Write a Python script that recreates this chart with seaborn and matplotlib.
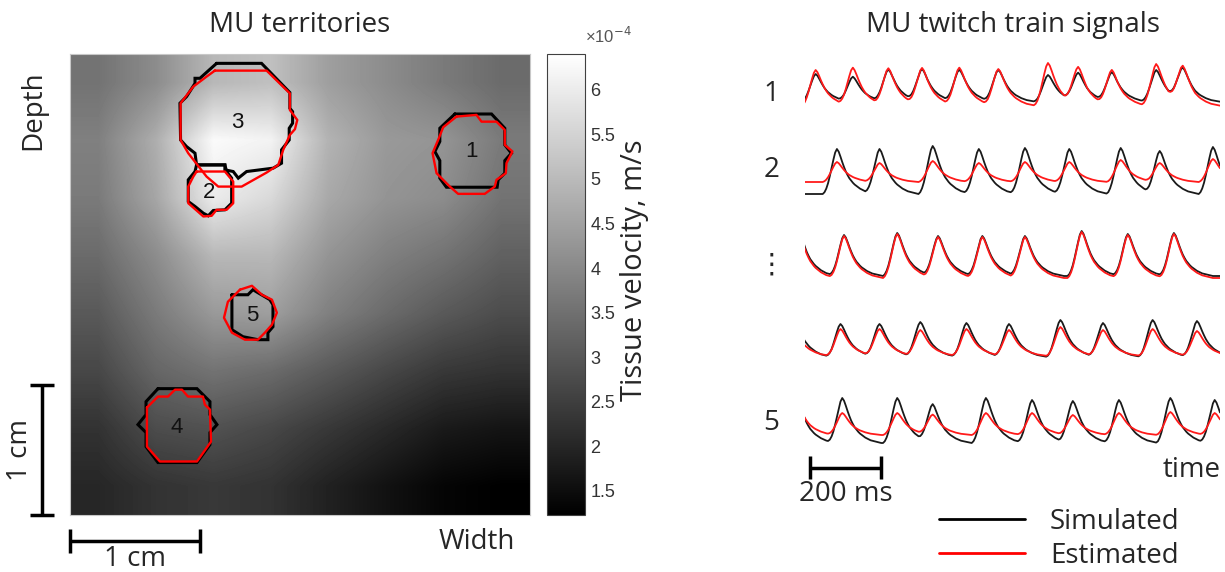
import numpy as np
import matplotlib
matplotlib.use("Agg")
import matplotlib.pyplot as plt
from matplotlib.lines import Line2D
from matplotlib.ticker import FuncFormatter
import seaborn as sns

# ---- left panel: tissue velocity map (x1e-4 m/s), coarse readings, rows = depth
velocity_e4 = [
    [3.56, 4.07, 4.95, 5.11, 4.44, 4.07, 3.71, 3.40],
    [3.82, 4.75, 6.30, 6.14, 4.85, 4.33, 4.23, 3.71],
    [3.71, 4.59, 5.99, 5.62, 4.64, 4.23, 4.07, 3.56],
    [3.40, 4.07, 4.95, 4.95, 4.23, 3.82, 3.56, 3.19],
    [3.04, 3.71, 4.33, 4.44, 3.82, 3.40, 3.04, 2.78],
    [2.68, 3.30, 3.56, 3.40, 3.04, 2.68, 2.37, 2.26],
    [2.26, 2.78, 2.88, 2.68, 2.37, 2.06, 1.75, 1.64],
    [2.01, 2.26, 2.37, 2.26, 1.90, 1.59, 1.33, 1.23],
]
width_mm = 35.4
depth_mm = 35.5
vmin, vmax = 1.23, 6.4
cbar_ticks = [1.5, 2, 2.5, 3, 3.5, 4, 4.5, 5, 5.5, 6]

# MU territory outlines (mm): simulated (black) and estimated (red)
mu_ids = [1, 2, 3, 4, 5]
mu_label_x = [30.9, 10.7, 12.85, 8.2, 14.0]
mu_label_y = [7.5, 10.7, 5.3, 28.8, 20.1]
sim_x = [
    [29.62, 32.44, 33.46, 33.46, 33.97, 33.46, 33.46, 32.95, 32.87, 28.97, 28.46, 28.46, 28.08, 28.46, 28.46],
    [9.74, 11.92, 12.05, 12.44, 12.44, 11.92, 11.03, 10.64, 10.26, 9.62, 9.10, 9.10, 9.62],
    [11.28, 14.74, 16.92, 16.92, 17.13, 17.13, 16.87, 16.87, 16.28, 16.28, 15.64, 13.59, 12.95, 12.56,
     11.92, 11.92, 9.74, 9.62, 8.97, 8.51, 8.46, 8.97, 9.62, 9.62, 10.0],
    [6.77, 9.77, 10.77, 10.77, 11.31, 10.77, 10.77, 9.77, 6.77, 5.85, 5.85, 5.23, 5.85, 5.85],
    [12.46, 13.69, 14.08, 14.46, 15.38, 15.62, 15.62, 15.23, 15.23, 14.46, 13.31, 12.46],
]
sim_y = [
    [4.62, 4.62, 5.72, 7.0, 7.64, 8.21, 9.18, 9.69, 10.26, 10.26, 9.56, 8.21, 7.51, 6.74, 5.72],
    [8.54, 8.54, 9.05, 9.56, 11.49, 12.0, 12.05, 12.46, 12.26, 11.74, 11.36, 9.69, 9.05],
    [0.72, 0.72, 2.97, 4.18, 4.44, 5.33, 5.72, 6.62, 7.38, 8.41, 8.79, 9.05, 9.56, 9.05,
     8.92, 8.54, 8.54, 7.64, 7.13, 6.62, 3.79, 3.28, 2.26, 1.87, 1.87],
    [25.77, 25.77, 26.77, 27.77, 28.54, 29.15, 30.08, 31.46, 31.46, 30.23, 29.15, 28.54, 27.77, 26.77],
    [18.54, 18.54, 18.15, 18.38, 18.92, 19.31, 21.0, 21.46, 22.0, 22.0, 21.77, 21.23],
]
est_x = [
    [29.74, 31.28, 31.67, 32.82, 33.46, 33.46, 34.05, 33.59, 33.54, 32.82, 32.69, 31.92, 29.87, 29.23,
     28.21, 27.9, 28.33, 28.72],
    [9.74, 11.92, 12.56, 12.56, 12.05, 11.28, 10.9, 10.26, 9.74, 9.10, 9.10, 9.49],
    [11.15, 15.13, 16.92, 16.92, 17.49, 17.31, 16.92, 16.41, 16.03, 15.13, 13.21, 11.41, 10.51, 9.10,
     8.51, 8.51, 9.49, 10.51],
    [5.92, 6.77, 7.54, 8.08, 8.62, 9.08, 10.23, 10.38, 10.77, 10.85, 9.77, 6.92, 5.92],
    [13.08, 14.0, 14.77, 15.54, 15.92, 15.54, 15.0, 14.46, 13.46, 12.46, 11.85, 12.15],
]
est_y = [
    [4.82, 4.69, 5.21, 5.21, 5.85, 7.0, 7.51, 8.41, 9.18, 9.69, 10.21, 10.77, 10.77, 10.21,
     9.18, 7.64, 6.62, 5.64],
    [9.05, 9.05, 9.82, 11.49, 12.0, 12.0, 12.46, 12.51, 12.05, 11.49, 10.21, 9.44],
    [1.28, 1.28, 3.03, 4.31, 5.08, 5.79, 6.23, 7.38, 8.54, 9.13, 10.21, 10.21, 9.44, 7.64,
     6.62, 3.79, 2.51, 1.74],
    [27.23, 26.38, 26.38, 25.85, 25.85, 26.38, 26.38, 27.0, 27.38, 29.85, 31.38, 31.38, 30.23],
    [18.15, 17.85, 18.54, 18.92, 19.92, 20.85, 21.46, 22.0, 22.0, 21.46, 20.31, 19.08],
]

# ---- right panel: twitch trains
row_labels = ["1", "2", "\u22ee", "", "5"]
step_ms = 5
time_ms = np.arange(-200, 1171, step_ms)
# twitch waveform, one value per 5 ms, onset 40 ms before peak
twitch_shape = [0.0, 0.04, 0.12, 0.24, 0.40, 0.58, 0.76, 0.92, 1.0, 0.94, 0.83, 0.71, 0.60,
                0.50, 0.42, 0.35, 0.30, 0.25, 0.21, 0.18, 0.15, 0.12, 0.10, 0.08, 0.06,
                0.05, 0.04, 0.03, 0.02, 0.01, 0.0]
twitch_lead_ms = 40
fire_ms = [
    [30, 135, 235, 330, 435, 545, 685, 770, 865, 990, 1065],
    [90, 210, 360, 490, 620, 745, 890, 1000, 1150],
    [-20, 110, 260, 375, 500, 620, 780, 910, 1040],
    [-35, 100, 210, 325, 455, 575, 720, 840, 980, 1105],
    [-20, 105, 260, 360, 510, 640, 755, 885, 1030, 1155],
]
sim_amp = [
    [28, 25, 32, 32, 32, 32, 27, 28, 29, 32, 32],
    [45, 45, 48, 45, 46, 45, 46, 43, 47],
    [48, 41, 43, 40, 40, 40, 45, 42, 43],
    [45, 33, 33, 35, 34, 33, 37, 34, 37, 36],
    [40, 45, 45, 38, 45, 43, 42, 43, 45, 43],
]
est_amp = [
    [36, 38, 37, 37, 38, 37, 43, 37, 35, 42, 37],
    [20, 19, 21, 19, 20, 20, 22, 19, 23],
    [48, 42, 44, 41, 41, 41, 46, 43, 44],
    [30, 27, 27, 26, 27, 26, 29, 26, 27, 25],
    [28, 22, 22, 20, 22, 22, 20, 22, 23, 22],
]
sim_base = [398, 306, 224, 143, 57]
est_base = [394, 318, 222, 144, 65]


def twitch_train(fires, amps, base):
    sig = np.full(len(time_ms), float(base))
    shape = np.array(twitch_shape)
    for f, a in zip(fires, amps):
        i0 = (f - twitch_lead_ms - time_ms[0]) // step_ms
        i1 = min(i0 + len(shape), len(sig))
        sig[i0:i1] += a * shape[: i1 - i0]
    return sig


sns.set_style("white")
plt.rcParams["font.family"] = ["Open Sans", "DejaVu Sans"]
txt = 20

fig = plt.figure(figsize=(12.25, 5.72), dpi=100)

# ---- heat map
ax = fig.add_axes([70 / 1225, 1 - 515 / 572, 460 / 1225, 461 / 572])
im = ax.imshow(np.array(velocity_e4), cmap="gray", vmin=vmin, vmax=vmax,
               extent=[0, width_mm, depth_mm, 0], interpolation="bilinear", aspect="auto")
for xs, ys in zip(sim_x, sim_y):
    ax.plot(xs + xs[:1], ys + ys[:1], color="black", lw=2.2, solid_joinstyle="miter")
for xs, ys in zip(est_x, est_y):
    ax.plot(xs + xs[:1], ys + ys[:1], color="#ff0000", lw=1.7)
for i, lx, ly in zip(mu_ids, mu_label_x, mu_label_y):
    ax.text(lx, ly, str(i), ha="center", va="center", fontsize=16,
            family="Liberation Sans", color="#111111")
ax.set_xlim(0, width_mm)
ax.set_ylim(depth_mm, 0)
ax.set_xticks([])
ax.set_yticks([])
for s in ax.spines.values():
    s.set_color("#c8c8c8")
    s.set_linewidth(0.8)
ax.set_title("MU territories", fontsize=txt, pad=16)

# scale bars (1 cm = 10 mm)
kw = dict(color="black", lw=2.5, clip_on=False, solid_capstyle="butt")
bx = -2.15
ax.plot([bx, bx], [depth_mm - 10, depth_mm], **kw)
ax.plot([bx - 0.9, bx + 0.9], [depth_mm - 10, depth_mm - 10], **kw)
ax.plot([bx - 0.9, bx + 0.9], [depth_mm, depth_mm], **kw)
ax.text(bx - 1.7, depth_mm - 5, "1 cm", rotation=90, ha="center", va="center", fontsize=txt)
by = depth_mm + 2.0
ax.plot([0, 10], [by, by], **kw)
ax.plot([0, 0], [by - 0.9, by + 0.9], **kw)
ax.plot([10, 10], [by - 0.9, by + 0.9], **kw)
ax.text(5, by + 1.35, "1 cm", ha="center", va="center", fontsize=txt)
ax.text(31.3, by + 0.1, "Width", ha="center", va="center", fontsize=txt)
ax.text(-2.85, 4.3, "Depth", rotation=90, ha="center", va="center", fontsize=txt)

# colour bar
cax = fig.add_axes([547 / 1225, 1 - 515 / 572, 38 / 1225, 461 / 572])
cb = fig.colorbar(im, cax=cax, ticks=cbar_ticks)
cb.outline.set_edgecolor("#404040")
cb.outline.set_linewidth(0.8)
cax.yaxis.set_major_formatter(FuncFormatter(lambda v, p: f"{v:g}"))
cax.tick_params(axis="y", direction="in", length=4, width=0.8, color="#404040",
                labelsize=13, labelcolor="#333333", pad=4)
for lab in cax.get_yticklabels():
    lab.set_family("Liberation Sans")
cax.text(1.0, 1.04, "\u00d710$^{-4}$", transform=cax.transAxes, fontsize=12,
         color="#555555", family="Liberation Sans", ha="left", va="center")
cax.text(2.3, 0.531, "Tissue velocity, m/s", transform=cax.transAxes, rotation=90,
         ha="center", va="center", fontsize=21)

# ---- twitch trains
ax2 = fig.add_axes([805 / 1225, 1 - 500 / 572, 415 / 1225, 460 / 572])
for r in range(len(fire_ms)):
    sim = twitch_train(fire_ms[r], sim_amp[r], sim_base[r])
    est = twitch_train(fire_ms[r], est_amp[r], est_base[r])
    sns.lineplot(x=time_ms, y=sim, color="#1a1a1a", lw=1.3, ax=ax2,
                 estimator=None, sort=False, legend=False)
    sns.lineplot(x=time_ms, y=est, color="#ff1a1a", lw=1.3, ax=ax2,
                 estimator=None, sort=False, legend=False)
    ax2.text(-95, est_base[r] + 12, row_labels[r], ha="center", va="center",
             fontsize=txt, clip_on=False)
ax2.set_xlim(0, 1170)
ax2.set_ylim(0, 460)
ax2.axis("off")
ax2.set_title("MU twitch train signals", fontsize=txt, pad=6)

# 200 ms scale bar
sb_y = 32
ax2.plot([15, 215], [sb_y, sb_y], **kw)
ax2.plot([15, 15], [sb_y - 11, sb_y + 12], **kw)
ax2.plot([215, 215], [sb_y - 11, sb_y + 12], **kw)
ax2.text(115, 6, "200 ms", ha="center", va="center", fontsize=txt, clip_on=False)
ax2.text(1172, 30, "time", ha="right", va="center", fontsize=txt, clip_on=False)

handles = [Line2D([], [], color="black", lw=2), Line2D([], [], color="#ff0000", lw=2)]
fig.legend(handles, ["Simulated", "Estimated"], loc="upper left",
           bbox_to_anchor=(914 / 1225, 1 - 483 / 572), frameon=False, fontsize=txt,
           handlelength=3.1, handletextpad=0.9, labelspacing=0.2, borderpad=0.4)

fig.savefig("out.png", dpi=100)
